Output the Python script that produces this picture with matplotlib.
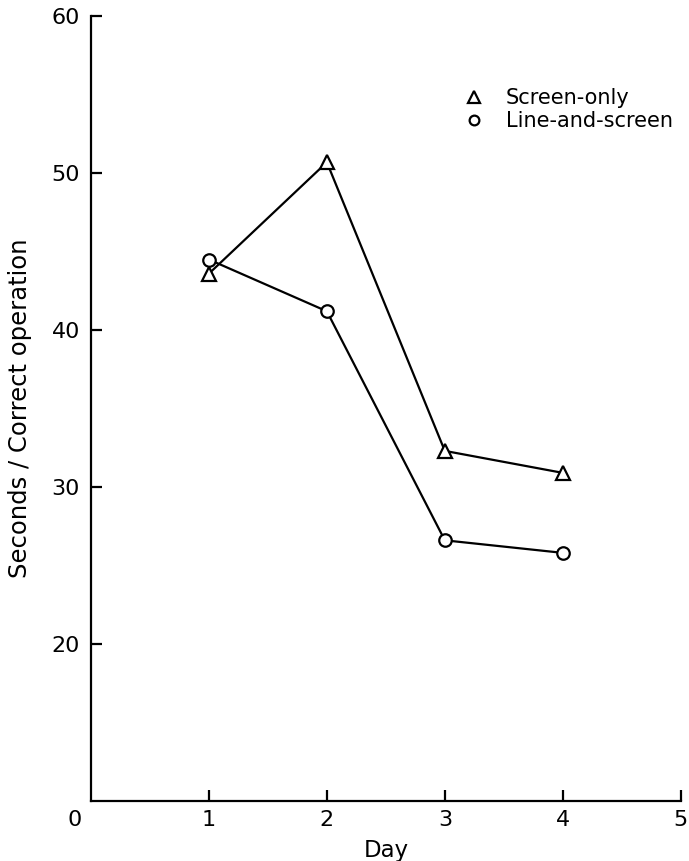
import matplotlib
matplotlib.use("Agg")
import matplotlib.pyplot as plt
import matplotlib.transforms as mtransforms
from matplotlib.lines import Line2D

days = [1, 2, 3, 4]
screen_only = [43.6, 50.7, 32.3, 30.9]
line_and_screen = [44.5, 41.2, 26.6, 25.8]

xticks = [0, 1, 2, 3, 4, 5]
yticks = [20, 30, 40, 50, 60]

plt.rcParams['font.family'] = ['DejaVu Sans']

fig = plt.figure(figsize=(6.89, 8.61), dpi=100)
ax = fig.add_axes([0.132, 0.070, 0.856, 0.911])

ax.plot(days, line_and_screen, color='black', lw=1.6, marker='o', ms=9,
        mfc='white', mec='black', mew=1.6, zorder=3)
ax.plot(days, screen_only, color='black', lw=1.6, marker='^', ms=10,
        mfc='white', mec='black', mew=1.6, zorder=3)

ax.set_xlim(0, 5)
ax.set_ylim(10, 60)
ax.set_xticks(xticks)
ax.set_yticks(yticks)
ax.set_xticklabels([str(t) for t in xticks])
ax.set_yticklabels([str(t) for t in yticks])

for side in ('top', 'right'):
    ax.spines[side].set_visible(False)
for side in ('left', 'bottom'):
    ax.spines[side].set_linewidth(1.6)

ax.tick_params(axis='both', direction='in', length=8, width=1.6,
               labelsize=16)
ax.tick_params(axis='x', pad=7)
ax.tick_params(axis='y', pad=8)

# origin label sits left of the corner, no tick mark there
ax.xaxis.get_major_ticks()[0].tick1line.set_visible(False)
zero_label = ax.get_xticklabels()[0]
zero_label.set_transform(zero_label.get_transform() +
                         mtransforms.ScaledTranslation(-0.16, 0, fig.dpi_scale_trans))

ax.set_xlabel('Day', fontsize=16.5, labelpad=6)
ax.set_ylabel('Seconds / Correct operation', fontsize=17.5, labelpad=14)

handles = [
    Line2D([], [], ls='none', marker='^', ms=8, mfc='white', mec='black', mew=1.6,
           label='Screen-only'),
    Line2D([], [], ls='none', marker='o', ms=7, mfc='white', mec='black', mew=1.6,
           label='Line-and-screen'),
]
ax.legend(handles=handles, loc='upper left', bbox_to_anchor=(0.615, 0.922),
          frameon=False, fontsize=15, handlelength=1.0, handletextpad=1.0,
          labelspacing=0.15, borderpad=0)

fig.savefig('out.png', dpi=100)
